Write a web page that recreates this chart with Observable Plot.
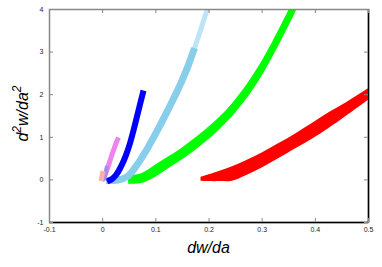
<!DOCTYPE html>
<html><head><meta charset="utf-8">
<script src="https://cdn.jsdelivr.net/npm/d3@7"></script>
<script src="https://cdn.jsdelivr.net/npm/@observablehq/plot@0.6"></script>
<style>body{margin:0;background:#fff}</style>
</head><body><div id="chart"></div>
<script>
const xTicks = [-0.1, 0, 0.1, 0.2, 0.3, 0.4, 0.5];
const yTicks = [-1, 0, 1, 2, 3, 4];

// red band edges [dw/da, d2w/da2]
const redLower = [[0.185,-0.03],[0.20,-0.04],[0.222,-0.04],[0.244,-0.03],[0.27,0.10],[0.30,0.28],[0.33,0.49],[0.363,0.73],[0.395,0.96],[0.425,1.20],[0.457,1.48],[0.50,1.87],[0.51,1.96]];
const redUpper = [[0.185,0.06],[0.20,0.12],[0.222,0.21],[0.244,0.31],[0.27,0.45],[0.30,0.63],[0.33,0.84],[0.363,1.08],[0.395,1.33],[0.425,1.57],[0.457,1.80],[0.50,2.14],[0.51,2.22]];
// centre lines of the other bands [dw/da, d2w/da2]
const green = [[0.0486,-0.002],[0.0711,0.021],[0.090,0.127],[0.1182,0.354],[0.1526,0.631],[0.184,0.930],[0.2154,1.268],[0.2461,1.667],[0.278,2.185],[0.3006,2.627],[0.325,3.176],[0.3551,3.915],[0.3646,4.157]];
const skyblue = [[0.0072,-0.026],[0.0298,-0.014],[0.0486,0.080],[0.0636,0.305],[0.0749,0.516],[0.0843,0.709],[0.1031,1.131],[0.1219,1.585],[0.137,1.965],[0.152,2.373],[0.1633,2.718],[0.1737,3.080]];
const skyblueSparse = [[0.1633,2.718],[0.1737,3.080],[0.1859,3.538],[0.199,4.040],[0.2019,4.148]];
const blue = [[0.0091,-0.049],[0.0185,0.009],[0.026,0.103],[0.0335,0.256],[0.0411,0.455],[0.0476,0.667],[0.0533,0.890],[0.0589,1.148],[0.0646,1.430],[0.0702,1.711],[0.0759,1.993],[0.0777,2.087]];
const violet = [[-0.0003,-0.038],[0.0034,0.056],[0.0081,0.197],[0.0128,0.362],[0.0175,0.549],[0.0222,0.714],[0.027,0.878],[0.0307,0.984]];
const purple = [[0.0034,-0.014],[0.0063,0.127],[0.0091,0.315]];
const pink = [[-0.0022,-0.038],[-0.0003,0.080],[0.0016,0.197]];
// band thickness along the green curve
const greenWidth = [9, 9.5, 10, 10, 9.8, 9.5, 9, 8.5, 8, 7.6, 7.2, 7, 7];

const W = 382, H = 267, ML = 49, MR = 14, MT = 9, MB = 45;
const xDomain = [-0.1, 0.5], yDomain = [-1, 4];
const sx = Plot.scale({x: {domain: xDomain, range: [ML, W - MR]}});
const sy = Plot.scale({y: {domain: yDomain, range: [H - MB, MT]}});

// two edges of a band of given pixel thickness around a centre line
function ribbon(center, width) {
  const P = center.map(([x, y]) => [sx.apply(x), sy.apply(y)]);
  return P.map((p, i) => {
    const a = P[Math.max(0, i - 1)], b = P[Math.min(P.length - 1, i + 1)];
    const dx = b[0] - a[0], dy = b[1] - a[1], L = Math.hypot(dx, dy);
    const nx = -dy / L, ny = dx / L;
    const h = (Array.isArray(width) ? width[i] : width) / 2;
    return {x1: sx.invert(p[0] + nx * h), y1: sy.invert(p[1] + ny * h),
            x2: sx.invert(p[0] - nx * h), y2: sy.invert(p[1] - ny * h)};
  });
}
const band = (lo, up) => lo.map((p, i) => ({x1: p[0], y1: p[1], x2: up[i][0], y2: up[i][1]}));
const areaOpts = (fill, extra = {}) => ({x1: "x1", y1: "y1", x2: "x2", y2: "y2", fill, curve: "catmull-rom", clip: true, ...extra});

const plot = Plot.plot({
  width: W, height: H,
  marginLeft: ML, marginRight: MR, marginTop: MT, marginBottom: MB,
  x: {domain: xDomain},
  y: {domain: yDomain},
  style: {fontFamily: "'Liberation Sans', Arial, sans-serif", fontSize: "7px", color: "#222", background: "#fff"},
  marks: [
    Plot.area(band(redLower, redUpper), areaOpts("#ff0000")),
    Plot.area(ribbon(green, greenWidth), areaOpts("#00ff00")),
    Plot.area(ribbon(skyblueSparse, 5), areaOpts("#87ceeb", {fillOpacity: 0.55})),
    Plot.area(ribbon(skyblue, 7), areaOpts("#87ceeb")),
    Plot.area(ribbon(blue, 6), areaOpts("#0000ff")),
    Plot.area(ribbon(violet, 5), areaOpts("#ee82ee")),
    Plot.area(ribbon(purple, 4), areaOpts("#a889f0")),
    Plot.area(ribbon(pink, 5), areaOpts("#f6b2a6")),
    Plot.frame({stroke: "#888", strokeWidth: 1.5}),
    Plot.ruleY([-1], {stroke: "#000", strokeWidth: 1.5}),
    Plot.ruleX([0.5], {stroke: "#000", strokeWidth: 1.5}),
    // inward ticks on all four sides
    Plot.tickX(xTicks, {x: d => d, stroke: "#888", insetTop: 209}),
    Plot.tickX(xTicks, {x: d => d, stroke: "#888", insetBottom: 209}),
    Plot.tickY(yTicks, {y: d => d, stroke: "#888", insetRight: 315}),
    Plot.tickY(yTicks, {y: d => d, stroke: "#888", insetLeft: 315}),
    Plot.axisX({ticks: xTicks, anchor: "bottom", tickSize: 0, tickPadding: 5, tickFormat: d => String(d), label: null}),
    Plot.axisY({ticks: yTicks, anchor: "left", tickSize: 0, tickPadding: 6, tickFormat: d => String(d), label: null})
  ]
});
document.getElementById("chart").appendChild(plot);

const svg = d3.select(plot);
const cx = (sx.apply(xDomain[0]) + sx.apply(xDomain[1])) / 2;
const cy = (sy.apply(yDomain[0]) + sy.apply(yDomain[1])) / 2;
svg.append("text")
  .attr("x", cx).attr("y", 253)
  .attr("text-anchor", "middle")
  .attr("font-family", "'Liberation Sans', Arial, sans-serif")
  .attr("font-size", 16).attr("font-style", "italic").attr("fill", "#000")
  .text("dw/da");
const yt = svg.append("text")
  .attr("transform", `translate(28,${cy - 2}) rotate(-90)`)
  .attr("text-anchor", "middle")
  .attr("font-family", "'Liberation Sans', Arial, sans-serif")
  .attr("font-size", 16).attr("font-style", "italic").attr("fill", "#000");
yt.append("tspan").text("d");
yt.append("tspan").attr("font-size", 12).attr("dy", -7).text("2");
yt.append("tspan").attr("dy", 7).text("w/da");
yt.append("tspan").attr("font-size", 12).attr("dy", -7).text("2");
</script>
</body></html>
